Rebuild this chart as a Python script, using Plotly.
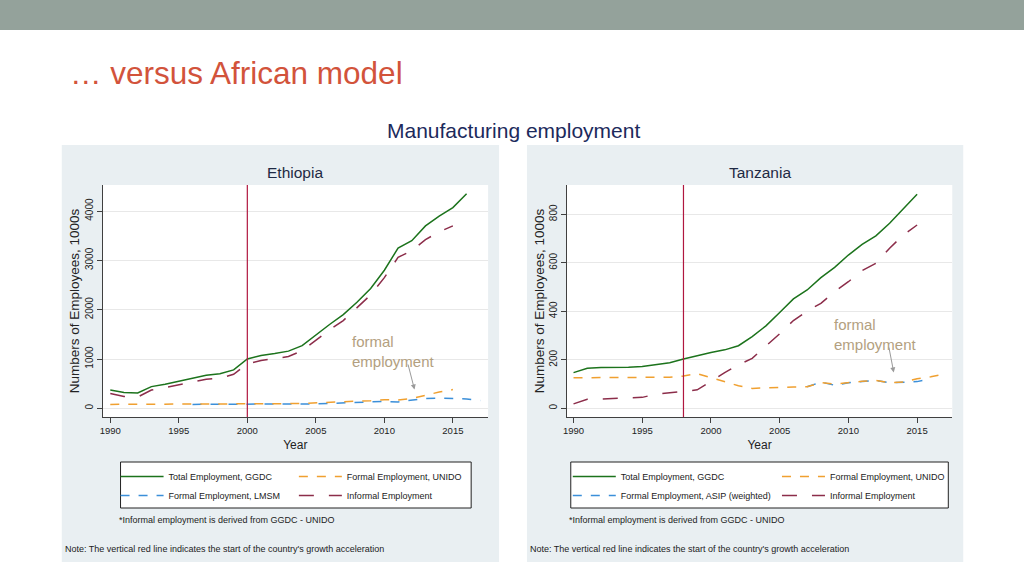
import plotly.graph_objects as go

# ---------------- data ----------------
eth_years_total = list(range(1990, 2017))
eth_total = [370, 320, 310, 440, 490, 550, 610, 670, 700, 780, 1000, 1070, 1110, 1160,
             1270, 1490, 1700, 1900, 2150, 2430, 2800, 3250, 3400, 3700, 3900, 4070, 4350]
eth_years_main = list(range(1990, 2016))
eth_informal = [300, 240, 230, 370, 420, 480, 540, 590, 610, 690, 900, 970, 1010, 1050,
                1170, 1380, 1590, 1780, 2040, 2300, 2650, 3060, 3200, 3420, 3580, 3700]
eth_unido = [80, 80, 80, 80, 85, 85, 90, 90, 90, 90, 90, 90, 95, 95, 100, 110, 115, 125,
             135, 155, 175, 170, 200, 270, 330, 380]
eth_years_lmsm = list(range(1996, 2018))
eth_lmsm = [80, 80, 80, 80, 75, 75, 80, 80, 85, 90, 100, 110, 115, 130, 140, 130, 170,
            200, 205, 195, 190, 160]
eth_accel_year = 2000

tza_years_main = list(range(1990, 2016))
tza_total = [147, 165, 168, 168, 169, 172, 179, 188, 203, 217, 230, 241, 258, 296, 340,
             395, 451, 488, 539, 581, 632, 676, 711, 763, 821, 883]
tza_informal = [18, 37, 38, 40, 41, 45, 58, 65, 70, 76, 111, 147, 179, 206, 257, 307, 362,
                401, 433, 481, 522, 568, 598, 660, 715, 756]
tza_years_unido = list(range(1990, 2018))
tza_unido = [126, 126, 126, 126, 126, 126, 126, 128, 133, 143, 126, 110, 93, 82, 85, 87,
             88, 89, 106, 100, 107, 111, 115, 105, 108, 122, 130, 142]
tza_years_asip = list(range(2007, 2017))
tza_asip = [89, 108, 95, 105, 110, 115, 105, 108, 110, 122]
tza_accel_year = 1998

x_ticks = [1990, 1995, 2000, 2005, 2010, 2015]
eth_y_ticks = [0, 1000, 2000, 3000, 4000]
tza_y_ticks = [0, 200, 400, 600, 800]

# ---------------- style ----------------
W, H = 1024, 576
REG = "Liberation Sans, Arial, Helvetica, sans-serif"
C_TOTAL = "#1c731c"
C_UNIDO = "#f0a030"
C_FORMAL = "#3b8fd9"
C_INFORMAL = "#8c2d4a"
C_VLINE = "#b0173f"
PANEL = "#e9eff2"
AX = "#404040"
TXT = "#222222"


def px(x):
    return x / W


def py(y):
    return 1 - y / H


fig = go.Figure()

# Ethiopia traces
fig.add_trace(go.Scatter(x=eth_years_total, y=eth_total, mode="lines", name="Total Employment, GGDC",
                         line=dict(color=C_TOTAL, width=1.5), xaxis="x", yaxis="y", legend="legend"))
fig.add_trace(go.Scatter(x=eth_years_lmsm, y=eth_lmsm, mode="lines", name="Formal Employment, LMSM",
                         line=dict(color=C_FORMAL, width=1.5, dash="dash"), xaxis="x", yaxis="y", legend="legend"))
fig.add_trace(go.Scatter(x=eth_years_main, y=eth_unido, mode="lines", name="Formal Employment, UNIDO",
                         line=dict(color=C_UNIDO, width=1.5, dash="dash"), xaxis="x", yaxis="y", legend="legend2"))
fig.add_trace(go.Scatter(x=eth_years_main, y=eth_informal, mode="lines", name="Informal Employment",
                         line=dict(color=C_INFORMAL, width=1.5, dash="longdash"), xaxis="x", yaxis="y", legend="legend2"))

# Tanzania traces
fig.add_trace(go.Scatter(x=tza_years_main, y=tza_total, mode="lines", name="Total Employment, GGDC",
                         line=dict(color=C_TOTAL, width=1.5), xaxis="x2", yaxis="y2", legend="legend3"))
fig.add_trace(go.Scatter(x=tza_years_asip, y=tza_asip, mode="lines", name="Formal Employment, ASIP (weighted)",
                         line=dict(color=C_FORMAL, width=1.5, dash="dash"), xaxis="x2", yaxis="y2", legend="legend3"))
fig.add_trace(go.Scatter(x=tza_years_unido, y=tza_unido, mode="lines", name="Formal Employment, UNIDO",
                         line=dict(color=C_UNIDO, width=1.5, dash="dash"), xaxis="x2", yaxis="y2", legend="legend4"))
fig.add_trace(go.Scatter(x=tza_years_main, y=tza_informal, mode="lines", name="Informal Employment",
                         line=dict(color=C_INFORMAL, width=1.5, dash="longdash"), xaxis="x2", yaxis="y2", legend="legend4"))


def xaxis_cfg(dom, rng):
    return dict(domain=dom, range=rng, tickvals=x_ticks, ticks="outside", ticklen=5, tickcolor=AX,
                showline=True, linecolor=AX, linewidth=1, showgrid=False, zeroline=False,
                tickfont=dict(family=REG, size=9.5, color=TXT),
                title=dict(text="Year", font=dict(family=REG, size=12, color=TXT), standoff=5))


def yaxis_cfg(dom, rng, ticks, anchor):
    return dict(domain=dom, range=rng, tickvals=ticks, ticks="outside", ticklen=5, tickcolor=AX,
                tickangle=-90, showline=True, linecolor=AX, linewidth=1, showgrid=True,
                gridcolor="#e8e8e8", gridwidth=1, zeroline=False, anchor=anchor,
                tickfont=dict(family=REG, size=10, color=TXT),
                title=dict(text="Numbers of Employees, 1000s", font=dict(family=REG, size=13.5, color=TXT),
                           standoff=0))


ydom = [py(417), py(185)]
xdom1 = [px(99), px(486)]
xdom2 = [px(565), px(952)]

shapes = [
    # top band
    dict(type="rect", xref="paper", yref="paper", x0=-0.02, x1=1.02, y0=py(30), y1=1.02,
         fillcolor="#94a29b", line=dict(width=0), layer="below"),
    # panels
    dict(type="rect", xref="paper", yref="paper", x0=px(58), x1=px(497), y0=py(562), y1=py(145),
         fillcolor=PANEL, line=dict(width=0), layer="below"),
    dict(type="rect", xref="paper", yref="paper", x0=px(525), x1=px(963), y0=py(562), y1=py(145),
         fillcolor=PANEL, line=dict(width=0), layer="below"),
    # plot areas
    dict(type="rect", xref="paper", yref="paper", x0=xdom1[0], x1=xdom1[1], y0=ydom[0], y1=ydom[1],
         fillcolor="white", line=dict(width=0), layer="below"),
    dict(type="rect", xref="paper", yref="paper", x0=xdom2[0], x1=xdom2[1], y0=ydom[0], y1=ydom[1],
         fillcolor="white", line=dict(width=0), layer="below"),
    # legend boxes
    dict(type="rect", xref="paper", yref="paper", x0=px(117), x1=px(469), y0=py(508), y1=py(462),
         fillcolor="white", line=dict(color=TXT, width=1), layer="below"),
    dict(type="rect", xref="paper", yref="paper", x0=px(569), x1=px(948), y0=py(508), y1=py(462),
         fillcolor="white", line=dict(color=TXT, width=1), layer="below"),
    # growth acceleration lines
    dict(type="line", xref="x", yref="y domain", x0=eth_accel_year, x1=eth_accel_year, y0=0, y1=1,
         line=dict(color=C_VLINE, width=1.2)),
    dict(type="line", xref="x2", yref="y2 domain", x0=tza_accel_year, x1=tza_accel_year, y0=0, y1=1,
         line=dict(color=C_VLINE, width=1.2)),
]

ANN_C = "#b3a080"
annotations = [
    dict(text="… versus African model", x=px(64), y=py(73), xref="paper", yref="paper",
         xanchor="left", yanchor="middle", showarrow=False,
         font=dict(family=REG, size=31.5, color="#d2533b")),
    dict(text="Manufacturing employment", x=px(511), y=py(130), xref="paper", yref="paper",
         xanchor="center", yanchor="middle", showarrow=False,
         font=dict(family=REG, size=21, color="#1c2a5c")),
    dict(text="Ethiopia", x=(xdom1[0] + xdom1[1]) / 2, y=py(172), xref="paper", yref="paper",
         xanchor="center", yanchor="middle", showarrow=False,
         font=dict(family=REG, size=15.5, color="#1f2a44")),
    dict(text="Tanzania", x=(xdom2[0] + xdom2[1]) / 2, y=py(172), xref="paper", yref="paper",
         xanchor="center", yanchor="middle", showarrow=False,
         font=dict(family=REG, size=15.5, color="#1f2a44")),
    # formal employment labels
    dict(text="formal<br>employment", x=2007.46, y=1162, xref="x", yref="y", xanchor="left",
         yanchor="middle", align="left", showarrow=False, font=dict(family=REG, size=15, color=ANN_C)),
    dict(text="", x=2012.2, y=380, ax=2011.7, ay=920, xref="x", yref="y", axref="x", ayref="y",
         showarrow=True, arrowhead=2, arrowsize=1, arrowwidth=1, arrowcolor="#9a9a9a"),
    dict(text="formal<br>employment", x=2008.78, y=304, xref="x2", yref="y2", xanchor="left",
         yanchor="middle", align="left", showarrow=False, font=dict(family=REG, size=15, color=ANN_C)),
    dict(text="", x=2013.3, y=148, ax=2012.93, ay=257, xref="x2", yref="y2", axref="x2", ayref="y2",
         showarrow=True, arrowhead=2, arrowsize=1, arrowwidth=1, arrowcolor="#9a9a9a"),
    # footnotes
    dict(text="*Informal employment is derived from GGDC - UNIDO", x=px(113), y=py(520), xref="paper",
         yref="paper", xanchor="left", yanchor="middle", showarrow=False,
         font=dict(family=REG, size=9, color=TXT)),
    dict(text="*Informal employment is derived from GGDC - UNIDO", x=px(565), y=py(520), xref="paper",
         yref="paper", xanchor="left", yanchor="middle", showarrow=False,
         font=dict(family=REG, size=9, color=TXT)),
    dict(text="Note: The vertical red line indicates the start of the country's growth acceleration",
         x=px(59), y=py(549), xref="paper", yref="paper", xanchor="left", yanchor="middle",
         showarrow=False, font=dict(family=REG, size=9, color=TXT)),
    dict(text="Note: The vertical red line indicates the start of the country's growth acceleration",
         x=px(526), y=py(549), xref="paper", yref="paper", xanchor="left", yanchor="middle",
         showarrow=False, font=dict(family=REG, size=9, color=TXT)),
]


def legend_cfg(x_left):
    return dict(x=px(x_left), y=py(462), xanchor="left", yanchor="top", xref="paper", yref="paper",
                orientation="v", bgcolor="rgba(0,0,0,0)", borderwidth=0, itemwidth=43,
                tracegroupgap=0, font=dict(family=REG, size=9, color=TXT))


fig.update_layout(
    width=W, height=H, margin=dict(l=0, r=0, t=0, b=0),
    paper_bgcolor="white", plot_bgcolor="white",
    xaxis=xaxis_cfg(xdom1, [1989.44, 2017.57]),
    yaxis=yaxis_cfg(ydom, [-176, 4529], eth_y_ticks, "x"),
    xaxis2=xaxis_cfg(xdom2, [1989.51, 2017.56]) | dict(anchor="y2"),
    yaxis2=yaxis_cfg(ydom, [-36, 921], tza_y_ticks, "x2"),
    shapes=shapes, annotations=annotations,
    legend=legend_cfg(112),
    legend2=legend_cfg(291),
    legend3=legend_cfg(566),
    legend4=legend_cfg(776),
    showlegend=True,
)

fig.write_html("out.html", config={"displayModeBar": False},
               post_script="document.body.style.margin='0px';document.body.style.overflow='hidden';")
